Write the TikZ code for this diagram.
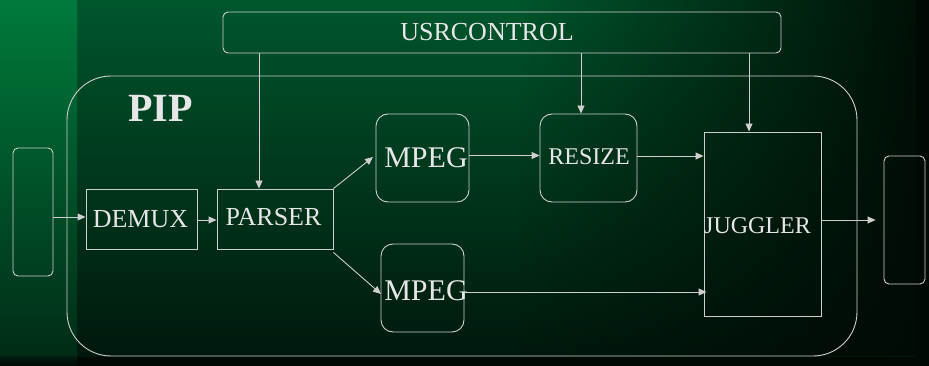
\documentclass[tikz,border=0pt]{standalone}
\usepackage{fontspec}
\setmainfont{Liberation Serif}
\usetikzlibrary{arrows.meta,calc,fadings}
\definecolor{lineC}{HTML}{CFCFCF}
\definecolor{textC}{HTML}{E6E6E6}
\definecolor{mTop}{HTML}{00562C}
\definecolor{mMid}{HTML}{003A1F}
\definecolor{mBot}{HTML}{00180C}
\definecolor{gD}{HTML}{000A03}
\definecolor{lTop}{HTML}{007A3C}
\definecolor{lBot}{HTML}{002C16}
\tikzfading[name=rfade, left color=transparent!100, right color=transparent!8]
\tikzset{
  blk/.style={draw=lineC, line width=0.9pt, inner sep=0pt},
  rbox/.style={blk, rounded corners=#1},
  lbl/.style={text=textC, inner sep=0pt, font=\fontsize{26}{30}\selectfont},
  conn/.style={draw=lineC, line width=0.9pt, -{Triangle[length=8pt,width=7pt]}},
}
\begin{document}
\begin{tikzpicture}[x=1pt,y=-1pt]
\useasboundingbox (0,0) rectangle (929,366);
% background
\fill[gD] (0,0) rectangle (929,366);
\shade[top color=mTop, middle color=mMid, bottom color=mBot] (77,0) rectangle (915,356);
\fill[gD, path fading=rfade, fit fading=true] (520,0) rectangle (915,356);
\shade[top color=lTop, bottom color=lBot] (0,0) rectangle (77,356);
\shade[top color=lBot!70!black, bottom color=gD] (0,356) rectangle (77,366);
% nodes
\node[rbox=44pt, minimum width=790pt, minimum height=280pt] (pip) at (462,216) {};
\node[text=textC, inner sep=0pt, font=\fontsize{40}{44}\bfseries\selectfont] (piplbl) at (160.5,108) {PIP};
\node[rbox=5pt, minimum width=558pt, minimum height=41pt] (usr) at (502,32.5) {};
\node[lbl] (usrlbl) at (487,32) {USRCONTROL};
\node[rbox=5pt, minimum width=40pt, minimum height=128pt] (inbox) at (33,212) {};
\node[rbox=5pt, minimum width=41pt, minimum height=128pt] (outbox) at (904.5,220) {};
\node[blk, minimum width=111pt, minimum height=60pt] (demux) at (141.5,219) {};
\node[lbl] (demuxlbl) at (140.5,219) {DEMUX};
\node[blk, minimum width=116pt, minimum height=60pt] (parser) at (275,219) {};
\node[lbl] (parserlbl) at (273.5,217) {PARSER};
\node[rbox=12pt, minimum width=93pt, minimum height=88pt] (mpegA) at (422.5,158) {};
\node[lbl, font=\fontsize{30}{34}\selectfont] (mpegAlbl) at (426,158) {MPEG};
\node[rbox=12pt, minimum width=83pt, minimum height=88pt] (mpegB) at (422.5,288) {};
\node[lbl, font=\fontsize{30}{34}\selectfont] (mpegBlbl) at (426,291) {MPEG};
\node[rbox=12pt, minimum width=97pt, minimum height=88pt] (resize) at (588.5,158) {};
\node[lbl, font=\fontsize{24}{28}\selectfont] (resizelbl) at (589,157) {RESIZE};
\node[blk, minimum width=117pt, minimum height=184pt] (juggler) at (762.5,224) {};
\node[lbl, font=\fontsize{24}{28}\selectfont] (jugglerlbl) at (757.5,226) {JUGGLER};
% connectors
\draw[conn] (inbox.east |- 0,217) -- (demux.west |- 0,217);
\draw[conn] (demux.east |- 0,220) -- (parser.west |- 0,220);
\draw[conn] (usr.south -| 259,0) -- (parser.north -| 259,0);
\draw[conn] (usr.south -| 581,0) -- (resize.north -| 581,0);
\draw[conn] (usr.south -| 749,0) -- (juggler.north -| 749,0);
\draw[conn] (parser.north east) -- (373,157);
\draw[conn] ($(parser.south east)+(0,3)$) -- (381,294);
\draw[conn] (mpegA.east |- 0,155.5) -- (resize.west |- 0,155.5);
\draw[conn] (resize.east |- 0,156) -- (juggler.west |- 0,156);
\draw[conn] (mpegB.east |- 0,292) -- ([xshift=3pt]juggler.west |- 0,292);
\draw[conn] (juggler.east |- 0,220) -- ([xshift=-8pt]outbox.west);
\end{tikzpicture}
\end{document}
